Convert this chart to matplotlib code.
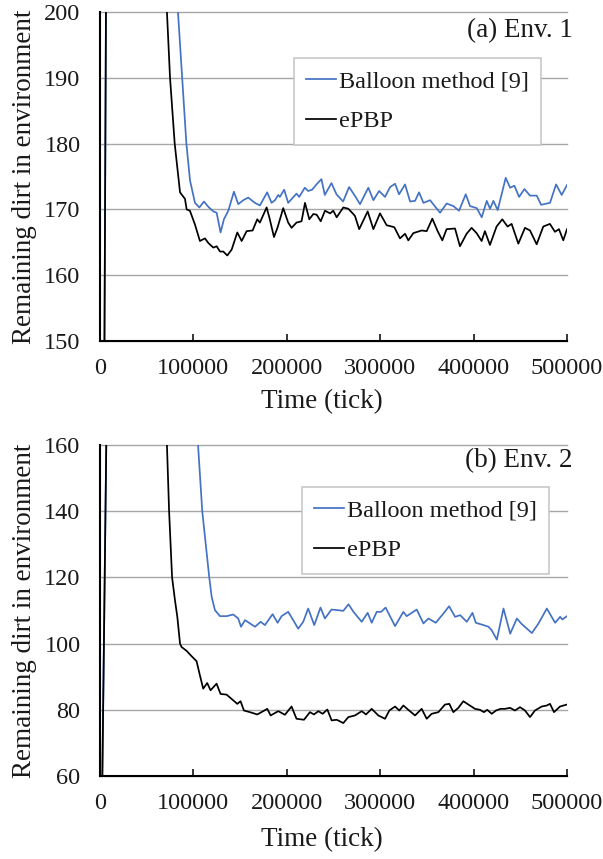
import numpy as np
import matplotlib
matplotlib.use("Agg")
import matplotlib.pyplot as plt

plt.rcParams["font.family"] = ["Liberation Serif", "DejaVu Serif"]

BLUE = "#4472C4"
GRID = "#a6a6a6"
INK = "#1a1a1a"

X_TICKS = [0, 100000, 200000, 300000, 400000, 500000]
X_LABELS = ["0", "100000", "200000", "300000", "400000", "500000"]

# ---- Env. 1: remaining dirt vs time (tick) ----
a_balloon_t = [0, 8000, 78000, 83500, 88000, 92500, 96400, 101700, 106400, 111300,
               116000, 121300, 124900, 129100, 132700, 137400, 143400, 148000, 153400,
               158700, 165800, 171200, 179000, 183700, 187300, 190900, 192600, 197200,
               201500, 210400, 213300, 219300, 222900, 227100, 231800, 237100, 240700,
               247800, 253200, 260300, 266700, 272800, 278400, 287300, 292700, 298800,
               305200, 310600, 315900, 320200, 326600, 332000, 337300, 341600, 346300,
               353400, 364100, 371200, 378400, 384400, 391600, 396200, 403400, 408700,
               414100, 417600, 421200, 425800, 434400, 439100, 443700, 448700, 454400,
               460400, 467600, 472300, 481800, 488300, 494300, 500000]
a_balloon_v = [0, 250, 225, 200, 190, 180, 174.4, 171.0, 170.3, 171.2,
               170.4, 169.7, 169.5, 166.5, 168.5, 169.8, 172.7, 170.8, 171.4,
               171.8, 171.0, 170.6, 172.6, 171.0, 171.4, 172.2, 171.9, 173.0,
               171.0, 172.4, 171.9, 173.3, 172.8, 173.0, 173.8, 174.6, 172.2,
               174.0, 172.3, 171.2, 173.4, 172.1, 170.8, 173.3, 171.4, 172.8,
               171.9, 173.4, 173.9, 172.3, 173.8, 171.2, 171.3, 172.6, 171.0,
               171.4, 169.5, 170.9, 170.5, 169.8, 172.3, 170.5, 170.2, 168.8,
               171.3, 170.1, 171.3, 169.9, 174.8, 173.3, 173.6, 171.9, 173.1,
               172.1, 172.1, 170.7, 171.0, 173.8, 172.2, 173.7]

a_epbp_t = [0, 8000, 65000, 71700, 75000, 80000, 85700, 91000, 92800, 96300,
            101700, 107000, 112400, 116000, 121300, 124900, 128500, 132000, 136300,
            141000, 147000, 151700, 157000, 163400, 168400, 171200, 178400, 181300,
            186300, 190000, 196200, 201500, 205100, 210400, 215800, 219500, 224100,
            228400, 232000, 236300, 240900, 246300, 249800, 253400, 260500, 265900,
            271200, 273000, 277500, 286600, 292700, 299800, 306900, 315100, 321200,
            326600, 330100, 335500, 344400, 349800, 355800, 361500, 366500, 371100,
            380100, 385400, 392500, 397900, 403200, 408600, 412100, 417500, 424600,
            430700, 436400, 440700, 447900, 455000, 460400, 467500, 474600, 481700,
            487100, 491400, 496000, 500000]
a_epbp_v = [0, 250, 225, 200, 190, 180, 172.6, 171.6, 170.0, 169.8,
            167.7, 165.2, 165.6, 164.9, 164.2, 164.4, 163.6, 163.6, 163.0,
            163.9, 166.5, 165.2, 166.7, 166.8, 168.5, 168.0, 170.3, 168.8,
            165.8, 167.2, 170.2, 168.0, 167.2, 168.0, 168.2, 171.0, 168.5,
            169.3, 169.2, 168.2, 169.8, 169.4, 169.8, 168.8, 170.3, 170.1,
            169.3, 169.0, 167.0, 169.7, 167.0, 169.4, 167.6, 167.3, 165.6,
            166.3, 165.3, 166.4, 166.8, 166.7, 168.6, 166.7, 165.3, 167.0,
            167.1, 164.4, 166.3, 167.2, 166.4, 165.2, 166.7, 164.6, 167.4,
            168.5, 167.4, 167.8, 164.8, 167.2, 166.8, 164.7, 167.4, 167.8,
            166.6, 167.0, 165.3, 167.0]

# ---- Env. 2 ----
b_balloon_t = [0, 8000, 100000, 105000, 109500, 117000, 119600, 123100, 128500, 135600,
               142700, 148000, 151000, 155300, 160600, 166000, 172000, 176600, 184800,
               190200, 194400, 201500, 206900, 212200, 217600, 222900, 229400, 236100,
               240800, 247900, 255100, 260500, 266100, 271400, 280200, 286600, 290900,
               296300, 301000, 305800, 315900, 324800, 328400, 339100, 346300, 351600,
               359500, 367700, 373800, 380200, 385600, 392700, 398800, 402400, 410600,
               416000, 419500, 424900, 432000, 439200, 446300, 451600, 462400, 469500,
               478400, 487300, 492700, 495000, 500000]
b_balloon_v = [0, 190, 170, 160, 140, 120, 114.1, 110.1, 108.3, 108.3,
               108.8, 107.6, 105.1, 107.1, 106.1, 105.1, 106.6, 105.6, 108.9,
               106.3, 108.3, 109.6, 107.1, 104.5, 106.6, 110.6, 105.6, 110.9,
               107.6, 110.3, 110.1, 109.9, 111.9, 109.6, 106.6, 109.3, 106.3,
               109.6, 109.6, 110.9, 105.3, 109.6, 108.3, 110.3, 106.1, 107.6,
               106.3, 109.1, 111.3, 108.1, 108.6, 106.6, 109.3, 106.3, 105.6,
               105.1, 104.0, 101.2, 110.6, 103.0, 107.6, 105.9, 103.2, 106.1,
               110.6, 106.3, 108.1, 107.3, 108.3]

b_epbp_t = [0, 8000, 65000, 71700, 74000, 77200, 80300, 82800, 85700, 87300,
            92800, 98100, 103400, 107000, 110500, 114800, 118400, 124800, 129100,
            135500, 140900, 147000, 150500, 154100, 160500, 168400, 174800, 179100,
            182700, 190900, 198000, 205100, 210400, 218400, 224800, 229100, 233800,
            238400, 243400, 248000, 253500, 260500, 265900, 273000, 280200, 284800,
            290900, 298000, 305200, 309800, 315900, 320500, 324800, 330100, 337300,
            344400, 349800, 355100, 362300, 369400, 374000, 378300, 383700, 389000,
            394400, 401500, 406900, 411000, 414600, 419400, 424000, 429000, 433700,
            439000, 444300, 449700, 455000, 460400, 465700, 472900, 478300, 481800,
            486100, 492500, 500000]
b_epbp_v = [0, 190, 175, 160, 140, 120, 113.1, 108.1, 100.0, 99.0,
            97.8, 96.2, 94.7, 90.4, 86.4, 88.1, 85.9, 87.9, 84.8,
            84.6, 83.3, 81.8, 82.6, 79.8, 79.3, 78.6, 79.6, 80.3,
            78.3, 79.6, 78.5, 81.0, 77.3, 77.0, 79.3, 78.6, 79.6,
            78.8, 80.1, 76.8, 77.0, 76.0, 77.8, 78.3, 79.6, 78.6,
            80.3, 78.3, 77.3, 79.8, 81.0, 79.8, 81.3, 80.0, 78.3,
            80.3, 77.3, 78.8, 79.3, 81.6, 81.8, 79.3, 80.6, 82.6,
            81.6, 80.3, 80.0, 79.3, 80.0, 78.8, 79.8, 80.3, 80.3,
            80.6, 79.8, 80.8, 79.8, 77.8, 79.8, 81.0, 81.3, 81.8,
            79.3, 81.0, 81.6]


def panel(ax, bt, bv, et, ev, ylim, ystep, tag, leg_xy, tag_y, xlab_y):
    ax.plot(bt, bv, color=BLUE, lw=1.25, label="Balloon method [9]", zorder=3,
            solid_joinstyle="round")
    ax.plot(et, ev, color="black", lw=1.25, label="ePBP", zorder=4,
            solid_joinstyle="round")
    ax.set_xlim(0, 500000)
    ax.set_ylim(*ylim)
    ax.set_xticks(X_TICKS, X_LABELS)
    ax.set_yticks(np.arange(ylim[0], ylim[1] + 1, ystep))

    ax.grid(axis="y", color=GRID, lw=1.0, zorder=1)
    for gl in ax.get_ygridlines():
        gl.set_clip_on(False)
    ax.set_axisbelow(True)

    for s in ("top", "right"):
        ax.spines[s].set_visible(False)
    for s in ("left", "bottom"):
        ax.spines[s].set_linewidth(1.5)
        ax.spines[s].set_color("black")
        ax.spines[s].set_zorder(5)

    ax.tick_params(axis="x", direction="in", length=5, width=1.1,
                   pad=12, labelsize=17.5, labelcolor=INK)
    ax.tick_params(axis="y", length=0, pad=14, labelsize=17.5, labelcolor=INK)

    ax.set_ylabel("Remaining dirt in environment", fontsize=19.5, color=INK)
    ax.yaxis.set_label_coords(-0.135, 0.5)
    ax.set_xlabel("Time (tick)", fontsize=19.5, color=INK)
    ax.xaxis.set_label_coords(0.475, xlab_y)

    ax.text(1.012, tag_y, tag, transform=ax.transAxes, ha="right", va="center",
            fontsize=19.5, color=INK)

    leg = ax.legend(loc="upper left", bbox_to_anchor=leg_xy, borderaxespad=0,
                    fontsize=17.5, frameon=True, fancybox=False, framealpha=1,
                    edgecolor="#c4c4c4", handlelength=1.25, handletextpad=0.12,
                    borderpad=0.5, labelspacing=0.75)
    leg.get_frame().set_linewidth(1.1)
    for t in leg.get_texts():
        t.set_color(INK)


def main():
    fig = plt.figure(figsize=(6.03, 8.59), dpi=100, facecolor="white")
    ax_a = fig.add_axes([0.1658, 0.603, 0.7745, 0.383])
    ax_b = fig.add_axes([0.1658, 0.0966, 0.7745, 0.3853])

    panel(ax_a, a_balloon_t, a_balloon_v, a_epbp_t, a_epbp_v, (150, 200), 10,
          "(a) Env. 1", (0.415, 0.860), 0.945, -0.145)
    panel(ax_b, b_balloon_t, b_balloon_v, b_epbp_t, b_epbp_v, (60, 160), 20,
          "(b) Env. 2", (0.4325, 0.873), 0.952, -0.155)

    fig.savefig("out.png", dpi=100, facecolor="white")


if __name__ == "__main__":
    main()
